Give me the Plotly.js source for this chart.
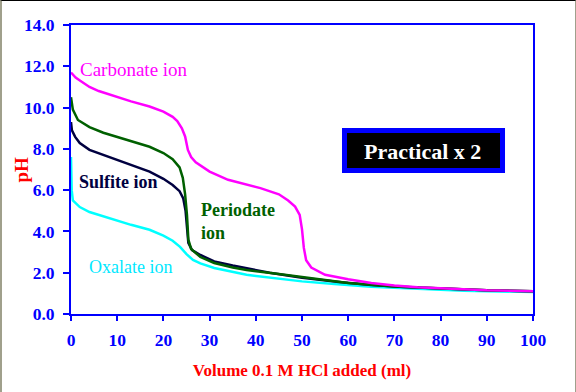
<!DOCTYPE html>
<html>
<head>
<meta charset="utf-8">
<script src="https://cdn.plot.ly/plotly-3.0.1.min.js"></script>
<style>
  html, body { margin: 0; padding: 0; background: #ffffff; }
  #frame { position: relative; width: 576px; height: 392px; box-sizing: border-box;
           border-top: 1px solid #000000; border-left: 2px solid #a0a08c; border-right: 1px solid #a0a08c; overflow: hidden; }
  #chart { position: absolute; left: -2px; top: -1px; width: 576px; height: 392px; }
</style>
</head>
<body>
<div id="frame"><div id="chart"></div></div>
<script>
// Volume of 0.1 M HCl added (ml) and pH for each ion
const carbonateX = [0, 1, 2, 4, 6, 8, 10, 13, 17, 20, 22, 23, 24, 24.7, 25.3, 26, 27, 30, 34, 38, 41, 45, 47, 48.5, 49.5, 50, 50.4, 50.9, 52, 55, 60, 65, 70, 75, 80, 90, 100];
const carbonateY = [11.7, 11.45, 11.3, 11.0, 10.8, 10.65, 10.5, 10.3, 10.05, 9.8, 9.55, 9.35, 9.0, 8.6, 7.95, 7.6, 7.35, 6.9, 6.5, 6.25, 6.1, 5.8, 5.5, 5.2, 4.8, 4.1, 3.2, 2.6, 2.25, 1.9, 1.68, 1.5, 1.38, 1.3, 1.24, 1.15, 1.1];

const periodateX = [0, 0.4, 1.5, 4, 7, 10, 13, 17, 20, 22, 23.5, 24.2, 24.7, 25.1, 25.4, 26, 28, 31, 35, 38, 45, 52, 60, 70, 80, 90, 100];
const periodateY = [10.5, 9.9, 9.4, 9.05, 8.78, 8.58, 8.35, 8.1, 7.8, 7.5, 7.1, 6.6, 5.8, 4.8, 3.6, 3.15, 2.76, 2.47, 2.25, 2.13, 1.94, 1.72, 1.5, 1.33, 1.23, 1.15, 1.1];

const sulfiteX = [0, 0.2, 0.9, 1.9, 4, 7, 10, 13, 17, 20, 22, 23.5, 24.3, 24.8, 25.1, 25.4, 26.2, 28, 31, 35, 43, 50, 58, 65, 72, 80, 90, 100];
const sulfiteY = [9.3, 8.9, 8.58, 8.28, 7.95, 7.7, 7.46, 7.22, 6.9, 6.55, 6.25, 5.95, 5.6, 5.0, 4.3, 3.45, 3.1, 2.86, 2.55, 2.35, 2.0, 1.76, 1.55, 1.4, 1.31, 1.23, 1.15, 1.1];

const oxalateX = [0, 0.15, 0.4, 1.9, 4, 6, 10, 13, 17, 20, 22, 23.6, 25, 26.4, 28, 31, 38, 45, 50, 57, 65, 75, 85, 100];
const oxalateY = [7.6, 6.0, 5.5, 5.18, 4.94, 4.8, 4.5, 4.32, 4.08, 3.8, 3.55, 3.25, 2.9, 2.62, 2.45, 2.23, 1.9, 1.72, 1.58, 1.45, 1.32, 1.22, 1.13, 1.06];

const xTicks = [0, 10, 20, 30, 40, 50, 60, 70, 80, 90, 100];
const yTicks = [0, 2, 4, 6, 8, 10, 12, 14];
const yTickText = ["0.0", "2.0", "4.0", "6.0", "8.0", "10.0", "12.0", "14.0"];

const serif = "Liberation Serif, Times New Roman, serif";

function line(x, y, name, color) {
  return { x: x, y: y, name: name, type: "scatter", mode: "lines",
           line: { color: color, width: 2.5 }, hoverinfo: "skip" };
}

const traces = [
  line(oxalateX, oxalateY, "Oxalate ion", "#00ffff"),
  line(sulfiteX, sulfiteY, "Sulfite ion", "#000040"),
  line(periodateX, periodateY, "Periodate ion", "#006000"),
  line(carbonateX, carbonateY, "Carbonate ion", "#ff00ff")
];

const layout = {
  width: 576, height: 392,
  margin: { l: 71, r: 43, t: 25, b: 78, pad: 0 },
  paper_bgcolor: "rgba(0,0,0,0)", plot_bgcolor: "#ffffff",
  showlegend: false,
  font: { family: serif, color: "#0000ff", size: 17 },
  xaxis: {
    range: [0, 100], tickvals: xTicks, ticktext: xTicks.map(String),
    showgrid: false, zeroline: false,
    showline: true, linecolor: "#0000ff", linewidth: 2, mirror: true,
    ticks: "outside", ticklen: 5, tickwidth: 2, tickcolor: "#0000ff",
    ticklabelstandoff: 4,
    tickfont: { family: serif, size: 17.5, color: "#0000ff", weight: "bold" },
    title: { text: "Volume 0.1 M HCl added (ml)", standoff: 15,
             font: { family: serif, size: 17, color: "#ff0000", weight: "bold" } },
    automargin: false
  },
  yaxis: {
    range: [0, 14], tickvals: yTicks, ticktext: yTickText,
    showgrid: false, zeroline: false,
    showline: true, linecolor: "#0000ff", linewidth: 2, mirror: true,
    ticks: "outside", ticklen: 6, tickwidth: 2, tickcolor: "#0000ff",
    ticklabelstandoff: 5,
    tickfont: { family: serif, size: 17.5, color: "#0000ff", weight: "bold" },
    automargin: false
  },
  shapes: [
    { type: "rect", xref: "paper", yref: "paper",
      x0: 0.592, x1: 0.934, y0: 0.4965, y1: 0.635,
      line: { color: "#0000ff", width: 5 }, fillcolor: "#000000", layer: "below" }
  ],
  annotations: [
    { text: "<b>pH</b>", x: -0.108, y: 0.5, xref: "paper", yref: "paper", xanchor: "center", yanchor: "middle",
      textangle: -90, showarrow: false,
      font: { family: serif, size: 19, color: "#ff0000" } },
    { text: "Carbonate ion", x: 1.5, y: 11.85, xref: "x", yref: "y", xanchor: "left", showarrow: false,
      font: { family: serif, size: 19, color: "#ff00ff" } },
    { text: "<b>Sulfite ion</b>", x: 1.4, y: 6.4, xref: "x", yref: "y", xanchor: "left", showarrow: false,
      font: { family: serif, size: 18, color: "#000040" } },
    { text: "<b>Periodate<br>ion</b>", x: 27.8, y: 4.5, xref: "x", yref: "y", xanchor: "left", align: "left", showarrow: false,
      font: { family: serif, size: 18, color: "#006000" } },
    { text: "Oxalate ion", x: 3.4, y: 2.28, xref: "x", yref: "y", xanchor: "left", showarrow: false,
      font: { family: serif, size: 18, color: "#00e8ff" } },
    { text: "<b>Practical x 2</b>", x: 0.761, y: 0.564, xref: "paper", yref: "paper",
      xanchor: "center", yanchor: "middle", showarrow: false,
      font: { family: serif, size: 22, color: "#ffffff" } }
  ]
};

Plotly.newPlot("chart", traces, layout, { displayModeBar: false, staticPlot: true });
</script>
</body>
</html>
